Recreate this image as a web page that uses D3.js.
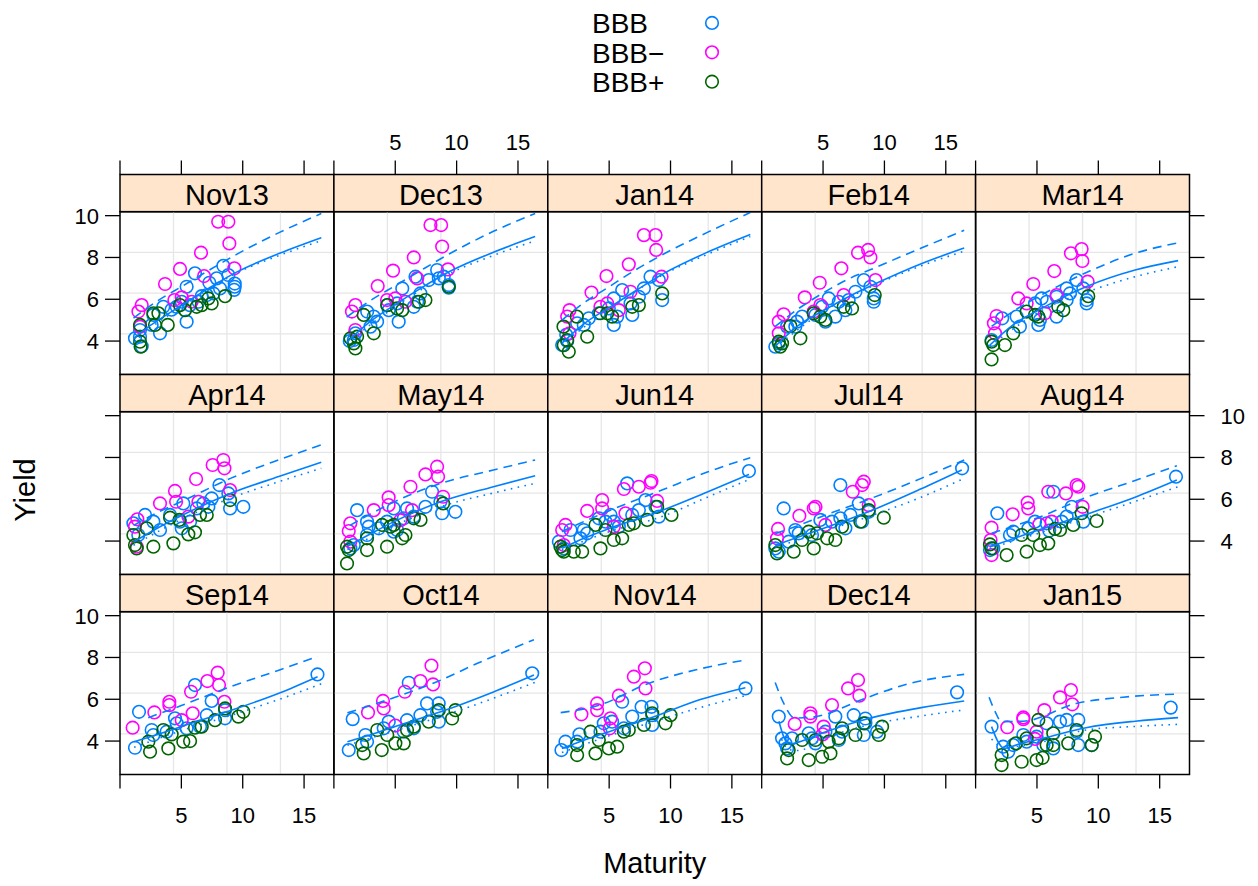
<!DOCTYPE html>
<html>
<head>
<meta charset="utf-8">
<script src="https://cdn.jsdelivr.net/npm/d3@7"></script>
<style>
  body { margin: 0; background: #fff; }
  text { font-family: "Liberation Sans", Arial, Helvetica, sans-serif; fill: #000; }
</style>
</head>
<body>
<div id="chart"></div>
<script>
// panels in reading order (3 rows x 5 columns)
var panelNames = ["Nov13", "Dec13", "Jan14", "Feb14", "Mar14",
                  "Apr14", "May14", "Jun14", "Jul14", "Aug14",
                  "Sep14", "Oct14", "Nov14", "Dec14", "Jan15"];
var groupNames = ["BBB", "BBB\u2212", "BBB+"];
var groupColors = ["#0080ff", "#ff00ff", "#006400"];

var xTicks = [0, 5, 10, 15];
var xTickLabels = ["", "5", "10", "15"];
var yTicks = [4, 6, 8, 10];

// [maturity, yield], one list per panel
var bbbPts = [
  [[8.42,7.6],[6.11,7.24],[7.88,7.0],[5.43,6.6],[7.28,6.79],[7.07,6.2],[6.66,6.15],[5.43,4.93],[4.2,5.5],[3.26,4.37],[2.72,5.25],[2.58,4.77],[1.22,4.13],[1.63,4.21],[1.77,3.75],[3.53,5.64],[5.03,5.88],[6.39,5.88],[7.61,6.28],[8.15,6.52],[1.63,4.53],[4.62,5.64],[5.7,5.72],[9.35,6.75],[9.35,6.6],[9.3,6.45],[8.83,7.16]],
  [[8.41,7.4],[6.65,7.08],[8.55,7.0],[5.57,6.52],[7.73,6.92],[8.95,7.08],[9.36,6.68],[7.05,6.28],[6.51,5.64],[6.79,5.88],[5.28,4.93],[4.47,5.48],[3.52,4.93],[2.98,4.69],[2.71,5.41],[1.29,4.0],[1.62,4.05],[1.75,4.37],[5.15,5.8],[4.35,5.72],[3.25,5.17],[9.36,6.55]],
  [[8.37,7.08],[9.05,6.92],[7.83,6.52],[6.06,6.44],[5.38,6.04],[6.74,5.8],[6.88,5.25],[5.38,4.77],[5.65,5.17],[3.34,5.09],[2.93,4.77],[2.39,4.85],[1.17,3.81],[1.58,4.0],[9.32,5.96],[4.97,5.56],[7.42,6.12],[4.16,5.33],[1.5,4.3]],
  [[8.32,6.92],[8.86,6.6],[7.64,6.36],[6.28,5.88],[5.46,6.04],[6.82,5.48],[6.0,5.17],[5.19,4.93],[9.13,5.88],[9.13,6.04],[4.38,5.25],[3.29,5.17],[2.88,4.93],[2.74,4.69],[1.11,3.73],[1.39,3.89],[2.07,4.69],[4.92,5.64],[7.09,5.96]],
  [[8.23,6.92],[8.78,6.52],[7.42,6.52],[7.69,6.28],[6.6,6.12],[5.38,6.04],[4.84,5.8],[5.79,5.88],[6.6,5.17],[5.11,4.77],[5.24,5.01],[3.34,5.17],[3.61,4.69],[2.17,5.09],[1.3,4.05],[9.05,5.96],[9.05,5.8],[7.42,5.96]],
  [[8.1,6.68],[8.83,6.28],[7.47,6.04],[6.79,5.8],[5.16,5.8],[6.25,5.56],[8.97,5.56],[10.05,5.64],[4.89,4.93],[5.03,4.61],[2.72,4.93],[3.26,4.53],[2.04,5.25],[1.09,4.85],[1.49,4.29],[5.71,4.93],[7.2,5.64],[4.08,5.25]],
  [[8.0,6.36],[8.68,5.88],[7.46,5.64],[9.9,5.4],[8.82,5.33],[1.89,5.48],[5.7,5.09],[4.88,5.56],[4.33,4.93],[3.66,4.61],[2.84,4.69],[2.7,4.29],[1.34,3.65],[1.62,3.81],[5.96,5.56],[6.51,5.17],[5.15,4.53],[4.88,4.45],[2.7,4.93]],
  [[16.39,7.35],[6.47,6.76],[7.96,5.96],[8.78,5.64],[9.05,5.17],[7.42,5.48],[6.88,5.25],[5.11,5.25],[4.7,4.93],[5.38,4.93],[2.93,4.53],[3.21,4.37],[1.85,4.53],[1.3,3.65],[0.9,3.97],[4.16,5.09],[5.79,4.69],[2.66,4.13]],
  [[16.33,7.48],[6.41,6.68],[7.91,5.8],[1.79,5.56],[8.72,5.4],[7.23,5.25],[6.41,5.09],[4.78,5.01],[5.73,4.93],[2.74,4.53],[3.02,4.37],[4.1,4.29],[1.11,3.65],[1.39,3.49],[2.2,3.97],[8.18,4.93],[6.82,4.61]],
  [[16.33,7.08],[6.33,6.36],[7.83,5.64],[1.77,5.33],[8.78,4.93],[7.42,5.17],[4.84,4.93],[5.79,4.85],[2.8,4.29],[3.07,4.45],[1.44,3.65],[1.17,3.57],[7.01,4.93],[4.3,4.6],[6.0,4.5]],
  [[16.09,7.19],[6.11,6.68],[7.47,5.92],[1.55,5.4],[8.56,5.48],[8.56,5.09],[7.07,5.24],[4.48,5.09],[4.62,4.85],[2.58,4.53],[2.72,4.29],[1.22,3.68],[5.43,4.61],[6.52,4.69],[3.8,4.45]],
  [[16.16,7.24],[6.1,6.79],[7.59,5.8],[8.54,5.8],[1.53,5.05],[8.41,5.4],[8.55,4.93],[7.05,5.24],[5.96,5.0],[4.47,4.93],[2.57,4.29],[2.7,3.97],[1.21,3.57],[4.06,4.61],[5.69,4.45],[6.51,4.61]],
  [[16.11,6.52],[6.06,5.88],[7.64,5.64],[8.45,5.64],[8.51,5.24],[8.51,4.77],[6.88,5.17],[4.56,4.85],[5.24,4.93],[2.58,4.32],[2.39,3.97],[1.44,3.97],[1.11,3.57],[4.29,4.45],[6.2,4.61]],
  [[15.92,6.33],[6.0,5.17],[7.5,5.24],[8.45,5.08],[8.45,4.85],[1.39,5.17],[1.66,4.13],[1.93,3.89],[2.07,3.65],[2.47,4.13],[3.83,4.37],[4.1,4.13],[4.38,3.89],[5.19,4.45],[6.28,4.05],[6.55,4.45],[9.4,4.45],[8.32,4.29]],
  [[15.9,5.6],[1.3,4.69],[5.79,4.85],[6.88,4.93],[7.42,5.01],[8.37,5.01],[8.23,4.45],[8.37,3.81],[9.46,3.81],[2.25,3.73],[2.66,3.49],[3.89,4.29],[4.97,4.21],[5.52,3.81],[6.33,3.65],[3.07,3.81],[4.16,3.97]]
];

var bbbMinusPts = [
  [[8.0,9.71],[8.83,9.71],[8.91,8.67],[6.6,8.23],[4.89,7.45],[3.67,6.73],[6.85,7.11],[9.32,7.48],[4.43,5.96],[5.03,6.09],[5.84,5.88],[1.77,5.72],[1.5,5.41],[1.63,4.69]],
  [[7.87,9.55],[8.74,9.55],[8.82,8.52],[6.51,8.0],[4.82,7.37],[3.57,6.63],[6.79,7.0],[9.3,7.43],[4.33,5.96],[5.0,6.04],[5.82,5.88],[1.75,5.72],[1.47,5.41],[1.75,4.53]],
  [[7.83,9.07],[8.78,9.07],[8.83,8.36],[6.6,7.67],[4.78,7.11],[3.56,6.32],[6.74,6.36],[9.27,7.08],[4.29,5.64],[4.84,5.8],[5.79,5.48],[1.77,5.48],[1.58,5.17],[1.77,4.37]],
  [[7.85,8.23],[8.67,8.36],[8.86,8.0],[6.49,7.48],[4.73,6.79],[3.51,6.09],[6.68,6.2],[9.27,6.92],[4.24,5.41],[4.78,5.72],[1.79,5.28],[1.39,4.93],[1.39,4.37]],
  [[7.77,8.2],[8.64,8.4],[8.7,7.83],[6.41,7.35],[4.7,6.73],[3.48,6.04],[6.6,6.2],[9.13,6.84],[4.16,5.8],[5.65,5.33],[1.71,5.2],[1.49,4.85],[1.58,4.37]],
  [[7.55,7.64],[8.42,7.88],[8.51,7.48],[6.2,6.97],[4.48,6.4],[3.26,5.8],[4.57,5.88],[6.39,5.88],[8.97,6.44],[5.57,5.17],[1.41,5.04],[1.22,4.69],[1.36,3.73]],
  [[7.46,7.19],[8.41,7.56],[8.49,7.08],[6.24,6.6],[4.46,6.09],[3.25,5.48],[4.46,5.72],[6.37,5.48],[8.9,6.12],[5.42,5.0],[1.34,4.85],[1.21,4.48],[1.34,3.97]],
  [[7.42,6.6],[8.37,6.79],[8.45,6.87],[6.2,6.49],[4.43,5.96],[3.21,5.44],[4.43,5.56],[6.33,5.33],[8.91,5.92],[5.38,4.69],[1.44,4.77],[1.17,4.53],[1.3,3.81]],
  [[7.42,6.36],[8.18,6.68],[8.32,6.84],[4.38,5.64],[4.24,5.56],[3.07,5.21],[5.19,4.77],[8.72,5.72],[1.33,4.58],[1.25,4.13]],
  [[7.36,6.28],[8.23,6.68],[8.37,6.6],[5.92,6.36],[4.24,5.84],[4.29,5.56],[3.02,5.28],[6.2,4.93],[5.19,4.8],[8.72,5.64],[1.3,4.64],[1.22,4.05],[1.3,3.33]],
  [[7.12,6.87],[7.96,7.27],[8.07,6.68],[5.79,6.36],[4.02,5.88],[4.02,5.72],[2.8,5.37],[5.03,5.0],[5.92,5.33],[8.51,5.88],[1.03,4.64]],
  [[7.05,6.87],[7.95,7.61],[8.08,6.71],[5.78,6.36],[4.0,5.92],[4.06,5.56],[2.78,5.37],[5.01,4.74]],
  [[7.01,7.08],[7.91,7.48],[7.96,6.52],[5.79,6.17],[4.02,5.8],[4.02,5.48],[2.74,5.28],[5.11,5.09],[5.05,4.61]],
  [[7.04,6.52],[7.85,6.92],[7.96,6.17],[5.73,5.72],[3.97,5.33],[3.97,5.17],[2.69,4.82],[5.05,4.69],[4.97,4.32]],
  [[6.88,6.09],[7.77,6.44],[7.88,5.76],[5.6,5.48],[3.89,5.13],[3.89,5.05],[2.58,4.66],[4.97,4.45],[4.84,4.1]]
];

var bbbPlusPts = [
  [[1.63,4.77],[1.63,3.97],[1.68,3.73],[2.72,5.33],[3.13,5.33],[2.85,4.77],[3.89,4.77],[4.89,5.72],[5.3,5.48],[6.25,5.64],[6.66,5.72],[7.2,6.04],[7.47,5.8],[8.56,6.15]],
  [[2.43,5.25],[1.35,4.13],[1.62,3.89],[1.75,3.65],[1.89,4.21],[3.25,4.37],[4.35,5.72],[5.15,5.56],[5.57,5.48],[6.92,5.88],[7.46,5.96],[9.36,6.6]],
  [[1.28,4.69],[1.58,4.05],[1.71,3.49],[1.3,3.8],[2.36,5.17],[3.21,4.21],[4.29,5.33],[4.84,5.33],[5.24,5.17],[6.88,5.64],[7.42,5.72],[9.32,6.28]],
  [[1.39,3.97],[1.52,3.73],[1.66,3.89],[2.34,4.72],[3.15,4.13],[4.24,5.33],[4.78,5.17],[5.19,5.01],[6.68,5.64],[7.36,5.56],[9.21,6.2]],
  [[1.3,3.97],[1.44,3.81],[1.3,3.12],[2.39,3.81],[3.07,4.37],[4.16,5.41],[4.84,5.25],[5.11,5.17],[6.74,5.64],[7.15,5.48],[9.18,6.15]],
  [[1.09,4.29],[1.22,3.81],[1.36,3.65],[2.17,4.61],[2.72,3.73],[4.35,3.89],[4.08,5.12],[4.84,5.01],[5.57,4.32],[6.11,4.42],[6.52,5.25],[7.07,5.25],[8.97,5.96]],
  [[1.07,3.73],[1.21,3.57],[1.07,2.93],[2.7,4.13],[2.7,3.57],[4.33,3.73],[3.93,4.77],[4.6,4.69],[4.88,4.77],[5.56,4.13],[5.83,4.29],[6.51,5.09],[7.06,5.01],[8.9,5.8]],
  [[1.03,3.73],[1.17,3.57],[1.3,3.49],[2.12,3.49],[2.8,3.49],[4.29,3.65],[3.89,4.77],[4.7,4.53],[5.38,4.05],[6.06,4.13],[6.6,4.77],[7.01,4.85],[8.1,5.01],[8.91,5.64],[10.08,5.25]],
  [[1.11,3.81],[1.25,3.41],[2.61,3.49],[4.24,3.65],[3.83,4.45],[4.51,4.37],[5.33,4.13],[6.0,4.05],[6.55,4.69],[8.04,4.93],[8.72,5.48],[9.95,5.12],[3.29,4.05]],
  [[1.17,3.84],[1.3,3.65],[2.53,3.33],[4.16,3.49],[3.75,4.29],[4.7,4.29],[5.24,3.81],[5.92,3.89],[6.47,4.58],[6.88,4.53],[7.96,4.77],[8.64,5.33],[9.86,4.96]],
  [[2.31,3.97],[2.45,3.49],[3.94,3.65],[3.53,4.53],[4.21,4.32],[5.16,3.97],[5.71,4.0],[6.11,4.64],[6.66,4.69],[7.74,5.0],[8.56,5.56],[9.65,5.17],[10.05,5.4]],
  [[2.3,3.81],[2.43,3.41],[3.9,3.57],[3.53,4.53],[4.35,4.29],[5.01,3.89],[5.69,3.89],[5.96,4.53],[6.51,4.69],[7.73,4.93],[8.55,5.48],[9.63,5.08],[9.9,5.48]],
  [[2.39,3.81],[2.39,3.33],[3.89,3.41],[3.48,4.45],[4.16,4.05],[4.97,3.65],[5.65,3.73],[6.2,4.45],[6.6,4.53],[7.83,4.77],[8.51,5.33],[9.59,4.85],[10.0,5.24]],
  [[2.07,3.17],[2.2,3.57],[3.29,4.05],[3.83,3.09],[4.92,3.25],[5.6,3.41],[5.46,3.97],[6.28,4.13],[6.55,4.61],[7.64,4.29],[8.32,4.85],[9.54,4.29],[9.81,4.69],[4.38,4.05]],
  [[2.12,3.33],[2.12,2.85],[3.75,3.01],[4.97,3.09],[5.46,3.2],[3.29,3.89],[4.16,4.13],[5.11,5.01],[5.79,3.81],[6.33,4.37],[6.33,3.81],[7.55,3.89],[8.23,4.53],[9.46,3.81],[9.73,4.21]]
];

// fitted curves, points
var fitSolid = [
  [[1.1,4.1],[2,4.55],[3,4.95],[5,5.7],[7,6.45],[9.5,7.3],[13,8.2],[16.4,8.95]],
  [[1.05,3.95],[3,4.95],[5,5.75],[7,6.5],[9.5,7.35],[13,8.25],[16.4,9.0]],
  [[1.15,3.9],[3,4.85],[5,5.6],[7,6.35],[9.5,7.25],[13,8.25],[16.5,9.1]],
  [[1.1,3.75],[3,4.75],[5,5.45],[7,6.1],[9.3,6.75],[13,7.7],[16.5,8.45]],
  [[1.15,3.8],[3,4.75],[5.5,5.6],[9,6.6],[13,7.4],[16.5,7.85]],
  [[1.1,3.95],[3,4.6],[5.4,5.33],[9,6.28],[13,7.1],[16.4,7.77]],
  [[1.1,3.75],[3,4.35],[4.9,4.93],[8.7,5.88],[13,6.6],[16.4,7.13]],
  [[1.15,3.65],[3,4.15],[5,4.6],[9,5.4],[13,6.35],[16.4,7.19]],
  [[1.1,3.8],[3,4.2],[5,4.6],[8.7,5.4],[13,6.5],[16.3,7.4]],
  [[1.15,3.73],[3,4.1],[5,4.5],[8.8,5.24],[13,6.1],[16.4,6.92]],
  [[1.15,3.97],[3,4.3],[5,4.7],[8.7,5.4],[13,6.3],[16.1,7.08]],
  [[1.1,3.97],[3,4.3],[5,4.7],[8.7,5.4],[13,6.35],[16.3,7.16]],
  [[1.15,3.65],[3,4.05],[5,4.45],[9,5.24],[12.3,5.96],[16.1,6.55]],
  [[1.4,4.95],[1.8,4.2],[2.2,3.85],[3,3.95],[5,4.4],[8.7,5.08],[13,5.6],[16.5,5.92]],
  [[1.3,4.69],[1.8,4.0],[2.3,3.65],[3.5,3.85],[5.5,4.13],[9,4.64],[13,4.95],[16.5,5.12]]
];

var fitDashed = [
  [[1.1,5.1],[3,5.9],[5,6.6],[7,7.3],[9.5,8.15],[13,9.2],[16.4,10.1]],
  [[1.05,5.15],[3,5.95],[5,6.65],[7,7.35],[9.5,8.2],[13,9.25],[16.4,10.1]],
  [[1.15,5.0],[3,5.85],[5,6.6],[7,7.35],[9.3,8.12],[13,9.2],[16.5,10.15]],
  [[1.1,4.7],[3,5.55],[5,6.3],[7,6.95],[9,7.45],[13,8.45],[16.5,9.3]],
  [[1.3,4.7],[3,5.4],[5.5,6.25],[9.3,7.35],[13,8.2],[16.5,8.7]],
  [[1.1,4.75],[3,5.35],[5.4,6.0],[9,7.0],[13,7.9],[16.4,8.6]],
  [[1.3,4.75],[3,5.3],[5,5.9],[8.7,6.76],[13,7.4],[16.4,7.88]],
  [[1.15,4.45],[3,4.95],[5,5.45],[9.3,6.44],[13,7.3],[16.5,7.99]],
  [[1.1,4.35],[3,4.75],[5,5.2],[8.9,6.04],[13,7.0],[16.5,7.88]],
  [[1.3,4.37],[3,4.7],[5,5.1],[8.8,6.04],[13,6.9],[16.4,7.6]],
  [[2.3,5.12],[5,5.7],[9,6.6],[13,7.4],[16.1,8.05]],
  [[1.1,5.35],[4,5.9],[8.4,6.84],[12,7.8],[16.3,8.85]],
  [[1.05,5.36],[4.2,5.72],[8.2,6.76],[12,7.4],[16.1,7.88]],
  [[1.1,6.8],[1.8,5.8],[2.7,5.1],[4.4,5.17],[8.4,6.04],[12,6.75],[16.5,7.19]],
  [[1.1,6.1],[1.6,5.4],[2.1,4.93],[3.9,4.95],[8.2,5.8],[12,6.1],[16.5,6.25]]
];

var fitDotted = [
  [[1.1,3.95],[3,4.85],[5,5.62],[7,6.4],[9.5,7.25],[13,8.1],[16.4,8.8]],
  [[1.05,3.9],[5,5.65],[9.5,7.25],[13,8.1],[16.4,8.8]],
  [[1.15,3.85],[5,5.55],[9.5,7.2],[13,8.15],[16.5,9.0]],
  [[1.1,3.7],[5,5.4],[9.3,6.7],[13,7.6],[16.5,8.3]],
  [[1.15,3.75],[5.5,5.5],[9.8,6.5],[13,7.08],[16.5,7.56]],
  [[1.1,3.8],[5.4,5.15],[9,6.05],[13,6.85],[16.4,7.48]],
  [[1.1,3.6],[5,4.75],[8.7,5.64],[13,6.3],[16.4,6.76]],
  [[1.15,3.57],[5,4.45],[9.3,5.17],[13,6.1],[16.5,6.97]],
  [[1.1,3.7],[5,4.45],[8.7,5.17],[13,6.1],[16.5,7.0]],
  [[1.15,3.65],[5,4.35],[8.8,5.08],[13,5.9],[16.5,6.6]],
  [[1.15,3.7],[5,4.5],[8.7,5.17],[13,6.0],[16.5,6.76]],
  [[1.1,3.8],[5,4.5],[8.7,5.17],[13,6.05],[16.4,6.81]],
  [[1.15,3.45],[5,4.25],[9,5.0],[13,5.7],[16.1,6.17]],
  [[1.4,4.4],[2.2,3.6],[3,3.55],[5,4.1],[8.7,4.77],[13,5.2],[16.5,5.49]],
  [[1.3,4.1],[2.3,3.7],[5.5,3.97],[9,4.53],[13,4.7],[16.5,4.8]]
];

var W = 1258, H = 886;
var nCol = 5,
    plotLeft = 120, colW = 213.9,
    plotTop = 174.5, rowH = 200, stripH = 37.2,
    panelH = rowH - stripH,
    tickLen = 14;

var svg = d3.select("#chart").append("svg")
    .attr("width", W)
    .attr("height", H);

var x = d3.scaleLinear().domain([0, 17.43]).range([0, colW]);
var y = d3.scaleLinear().domain([2.40, 10.19]).range([panelH, 0]);

svg.append("clipPath")
    .attr("id", "panelclip")
    .append("rect")
    .attr("width", colW)
    .attr("height", panelH);

var pointSets = [bbbPts, bbbMinusPts, bbbPlusPts];
var lineSets = [
    {pts: fitSolid, dash: null},
    {pts: fitDashed, dash: "9,6"},
    {pts: fitDotted, dash: "1.6,5.4"}
];

var line = d3.line()
    .x(function(d) { return x(d[0]); })
    .y(function(d) { return y(d[1]); })
    .curve(d3.curveMonotoneX);

// grid lines: three evenly spaced lines each way
var xd = x.domain(), yd = y.domain();
var gridX = [1, 2, 3].map(function(k) { return xd[0] + (xd[1] - xd[0]) * k / 4; });
var gridY = [1, 2, 3].map(function(k) { return yd[0] + (yd[1] - yd[0]) * k / 4; });

panelNames.forEach(function(name, i) {
    var c = i % nCol, r = Math.floor(i / nCol);
    var g = svg.append("g")
        .attr("transform", "translate(" + (plotLeft + c * colW) + "," + (plotTop + r * rowH + stripH) + ")");

    // strip
    g.append("rect")
        .attr("x", 0).attr("y", -stripH)
        .attr("width", colW).attr("height", stripH)
        .attr("fill", "#ffe5cc")
        .attr("stroke", "#000").attr("stroke-width", 1.5);
    g.append("text")
        .attr("x", colW / 2).attr("y", -6.7)
        .attr("text-anchor", "middle")
        .style("font-size", "29px")
        .text(name);

    var inner = g.append("g").attr("clip-path", "url(#panelclip)");

    inner.selectAll(".gx").data(gridX).enter().append("line")
        .attr("x1", function(d) { return x(d); }).attr("x2", function(d) { return x(d); })
        .attr("y1", 0).attr("y2", panelH)
        .attr("stroke", "#e6e6e6").attr("stroke-width", 1.3);
    inner.selectAll(".gy").data(gridY).enter().append("line")
        .attr("y1", function(d) { return y(d); }).attr("y2", function(d) { return y(d); })
        .attr("x1", 0).attr("x2", colW)
        .attr("stroke", "#e6e6e6").attr("stroke-width", 1.3);

    pointSets.forEach(function(set, k) {
        inner.selectAll(null).data(set[i]).enter().append("circle")
            .attr("cx", function(d) { return x(d[0]); })
            .attr("cy", function(d) { return y(d[1]); })
            .attr("r", 6.3)
            .attr("fill", "none")
            .attr("stroke", groupColors[k])
            .attr("stroke-width", 1.6);
    });

    lineSets.forEach(function(ls) {
        inner.append("path")
            .datum(ls.pts[i])
            .attr("d", line)
            .attr("fill", "none")
            .attr("stroke", "#0080ff")
            .attr("stroke-width", 1.6)
            .attr("stroke-dasharray", ls.dash);
    });

    g.append("rect")
        .attr("width", colW).attr("height", panelH)
        .attr("fill", "none")
        .attr("stroke", "#000").attr("stroke-width", 1.5);

    // axes: ticks on all outer sides, labels alternate
    if (r === 0) {
        var top = g.append("g").attr("transform", "translate(0," + (-stripH) + ")");
        top.selectAll("line").data(xTicks).enter().append("line")
            .attr("x1", function(d) { return x(d); }).attr("x2", function(d) { return x(d); })
            .attr("y1", 0).attr("y2", -tickLen)
            .attr("stroke", "#000").attr("stroke-width", 1.3);
        if (c % 2 === 1) {
            top.selectAll("text").data(xTicks).enter().append("text")
                .attr("x", function(d) { return x(d); })
                .attr("y", -25)
                .attr("text-anchor", "middle")
                .style("font-size", "22px")
                .text(function(d, j) { return xTickLabels[j]; });
        }
    }
    if (r === 2) {
        var bot = g.append("g").attr("transform", "translate(0," + panelH + ")");
        bot.selectAll("line").data(xTicks).enter().append("line")
            .attr("x1", function(d) { return x(d); }).attr("x2", function(d) { return x(d); })
            .attr("y1", 0).attr("y2", tickLen)
            .attr("stroke", "#000").attr("stroke-width", 1.3);
        if (c % 2 === 0) {
            bot.selectAll("text").data(xTicks).enter().append("text")
                .attr("x", function(d) { return x(d); })
                .attr("y", 48)
                .attr("text-anchor", "middle")
                .style("font-size", "22px")
                .text(function(d, j) { return xTickLabels[j]; });
        }
    }
    if (c === 0) {
        g.selectAll(".lt").data(yTicks).enter().append("line")
            .attr("y1", function(d) { return y(d); }).attr("y2", function(d) { return y(d); })
            .attr("x1", 0).attr("x2", -15)
            .attr("stroke", "#000").attr("stroke-width", 1.3);
        if (r !== 1) {
            g.selectAll(".ll").data(yTicks).enter().append("text")
                .attr("x", -21)
                .attr("y", function(d) { return y(d); })
                .attr("dy", "0.36em")
                .attr("text-anchor", "end")
                .style("font-size", "22px")
                .text(function(d) { return d; });
        }
    }
    if (c === nCol - 1) {
        g.selectAll(".rt").data(yTicks).enter().append("line")
            .attr("y1", function(d) { return y(d); }).attr("y2", function(d) { return y(d); })
            .attr("x1", colW).attr("x2", colW + 15)
            .attr("stroke", "#000").attr("stroke-width", 1.3);
        if (r === 1) {
            g.selectAll(".rl").data(yTicks).enter().append("text")
                .attr("x", colW + 31)
                .attr("y", function(d) { return y(d); })
                .attr("dy", "0.36em")
                .attr("text-anchor", "start")
                .style("font-size", "22px")
                .text(function(d) { return d; });
        }
    }
});

// legend
var legend = svg.append("g");
groupNames.forEach(function(name, k) {
    legend.append("text")
        .attr("x", 592).attr("y", 33.3 + k * 29.2)
        .style("font-size", "28px")
        .text(name);
    legend.append("circle")
        .attr("cx", 712).attr("cy", 22.9 + k * 29.4)
        .attr("r", 6.3)
        .attr("fill", "none")
        .attr("stroke", groupColors[k])
        .attr("stroke-width", 1.6);
});

// axis titles
svg.append("text")
    .attr("transform", "translate(35,490) rotate(-90)")
    .attr("text-anchor", "middle")
    .style("font-size", "29px")
    .text("Yield");
svg.append("text")
    .attr("x", plotLeft + nCol * colW / 2).attr("y", 873)
    .attr("text-anchor", "middle")
    .style("font-size", "29px")
    .text("Maturity");
</script>
</body>
</html>
